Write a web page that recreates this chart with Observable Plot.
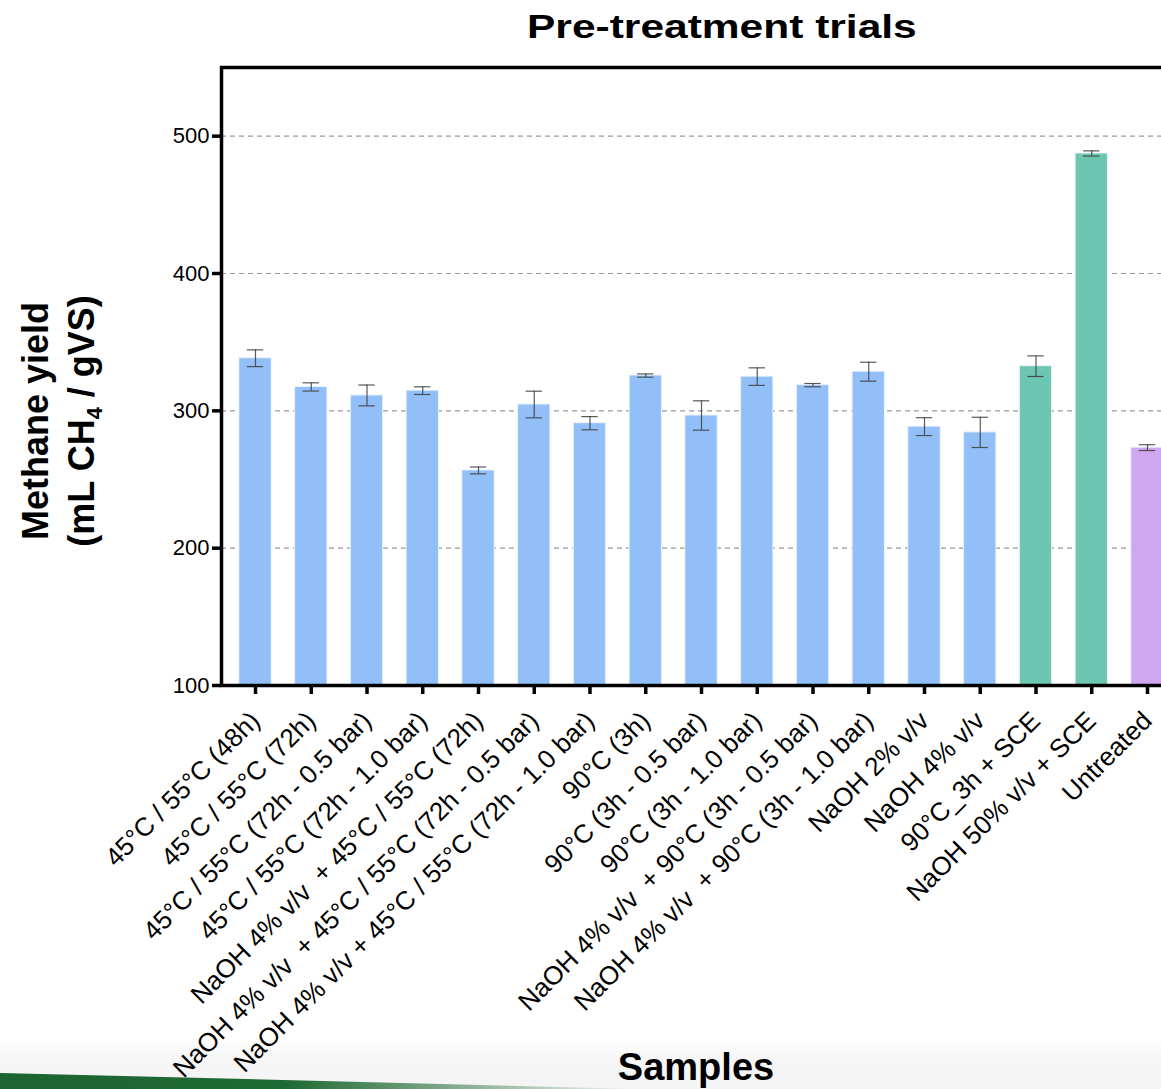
<!DOCTYPE html>
<html>
<head>
<meta charset="utf-8">
<script src="https://cdn.jsdelivr.net/npm/d3@7"></script>
<script src="https://cdn.jsdelivr.net/npm/@observablehq/plot@0.6"></script>
<style>
  html, body { margin: 0; padding: 0; background: #ffffff; overflow: hidden; }
  #wrap { position: relative; width: 1161px; height: 1089px; overflow: hidden; font-family: "Liberation Sans", Arial, Helvetica, sans-serif; }
  #footer { position: absolute; left: 0; top: 1038px; width: 1161px; height: 51px;
    background: linear-gradient(to bottom, #ffffff 0%, #f6f6f6 40%, #f4f4f4 100%); }
  #stripe { position: absolute; left: 0; top: 1066px; width: 640px; height: 23px;
    background: linear-gradient(to right, #1c6430 0%, #1f6a34 45%, rgba(40,110,60,0.0) 100%);
    clip-path: polygon(0 30%, 100% 100%, 0 100%); }
  #chart { position: absolute; left: 0; top: 0; }
  #chart svg { max-width: none !important; }
  #title { position: absolute; left: 0; top: 4px; width: 1444px; text-align: center;
    font-weight: bold; font-size: 34px; line-height: 44px; color: #000; }
  #title span { display: inline-block; transform: scaleX(1.25); }
  #ylabel { position: absolute; left: 59px; top: 421px; transform: translate(-50%, -50%) rotate(-90deg);
    white-space: nowrap; text-align: center; font-weight: bold; font-size: 36px; line-height: 46px; color: #000; }
  #ylabel sub { font-size: 60%; vertical-align: -0.35em; line-height: 0; }
  #xlabel { position: absolute; left: 0; top: 1044px; width: 1392px; text-align: center;
    font-weight: bold; font-size: 38px; line-height: 46px; color: #000; }
</style>
</head>
<body>
<div id="wrap">
  <div id="footer"></div>
  <div id="stripe"></div>
  <div id="chart"></div>
  <div id="title"><span>Pre-treatment trials</span></div>
  <div id="ylabel">Methane yield<br>(mL CH<sub>4</sub> / gVS)</div>
  <div id="xlabel">Samples</div>
</div>
<script>
// ---- data ----
const samples = [
  "45°C / 55°C (48h)",
  "45°C / 55°C (72h)",
  "45°C / 55°C (72h - 0.5 bar)",
  "45°C / 55°C (72h - 1.0 bar)",
  "NaOH 4% v/v  + 45°C / 55°C (72h)",
  "NaOH 4% v/v  + 45°C / 55°C (72h - 0.5 bar)",
  "NaOH 4% v/v + 45°C / 55°C (72h - 1.0 bar)",
  "90°C (3h)",
  "90°C (3h - 0.5 bar)",
  "90°C (3h - 1.0 bar)",
  "NaOH 4% v/v  + 90°C (3h - 0.5 bar)",
  "NaOH 4% v/v  + 90°C (3h - 1.0 bar)",
  "NaOH 2% v/v",
  "NaOH 4% v/v",
  "90°C_3h + SCE",
  "NaOH 50% v/v + SCE",
  "Untreated"
];
const yieldMean = [338.3, 317.4, 311.2, 314.7, 256.6, 304.6, 291.0, 325.7, 296.6, 324.9, 318.7, 328.5, 288.5, 284.3, 332.5, 487.4, 273.2];
const yieldError = [6.1, 3.0, 7.6, 2.8, 2.5, 9.7, 4.8, 1.2, 10.7, 6.4, 1.2, 6.9, 6.5, 11.0, 7.5, 1.9, 2.1];
const sampleGroup = ["pre","pre","pre","pre","pre","pre","pre","pre","pre","pre","pre","pre","pre","pre","sce","sce","untreated"];
const groupNames = ["pre", "sce", "untreated"];
const groupColors = ["#92bff7", "#6dc6b1", "#cfa7f0"];
const yTicks = [100, 200, 300, 400, 500];
const yGrid = [200, 300, 400, 500];

const data = samples.map((s, i) => ({
  sample: s, mean: yieldMean[i], err: yieldError[i], group: sampleGroup[i],
  lo: yieldMean[i] - yieldError[i], hi: yieldMean[i] + yieldError[i]
}));

const chart = Plot.plot({
  width: 1195,
  height: 1089,
  marginLeft: 221,
  marginRight: 14,
  marginTop: 67,
  marginBottom: 404,
  style: { fontFamily: "'Liberation Sans', Arial, Helvetica, sans-serif", background: "transparent", color: "#000", maxWidth: "none" },
  x: { domain: samples, paddingInner: 0.42, paddingOuter: 0.32, round: false, label: null },
  y: { domain: [100, 550], label: null },
  color: { domain: groupNames, range: groupColors },
  marks: [
    Plot.gridY(yGrid, { stroke: "#9a9a9a", strokeOpacity: 1, strokeWidth: 1.2, strokeDasharray: "5,4" }),
    Plot.barY(data, { x: "sample", y1: 100, y2: "mean", fill: "group", stroke: "#e9f3ff", strokeWidth: 1 }),
    Plot.ruleX(data, { x: "sample", y1: "lo", y2: "hi", stroke: "#3c3c3c", strokeWidth: 1.2, strokeOpacity: 0.85 }),
    Plot.tickY(data, { x: "sample", y: "lo", stroke: "#3c3c3c", strokeWidth: 1.2, strokeOpacity: 0.85, insetLeft: 8, insetRight: 8 }),
    Plot.tickY(data, { x: "sample", y: "hi", stroke: "#3c3c3c", strokeWidth: 1.2, strokeOpacity: 0.85, insetLeft: 8, insetRight: 8 }),
    Plot.axisY({ ticks: yTicks, tickSize: 9, strokeWidth: 3.5, fontSize: 22, tickPadding: 3, label: null }),
    Plot.axisX({ tickSize: 9, strokeWidth: 3.5, fontSize: 26, tickRotate: -45, tickPadding: 22, label: null }),
    Plot.frame({ stroke: "#000", strokeWidth: 3.5 })
  ]
});
chart.style.maxWidth = "none";
document.getElementById("chart").appendChild(chart);
</script>
</body>
</html>
